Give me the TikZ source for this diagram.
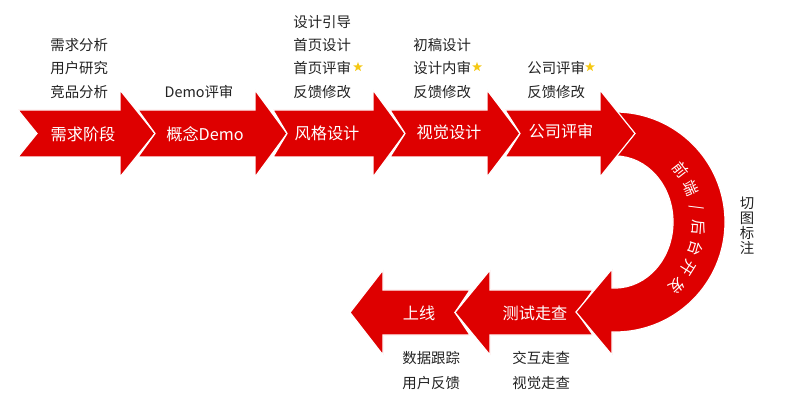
\documentclass[tikz,border=0pt]{standalone}
\usepackage{fontspec}
\setmainfont{Noto Sans CJK SC}
\usetikzlibrary{shapes.geometric}
\definecolor{arrowred}{RGB}{222,0,0}
\definecolor{labelgray}{RGB}{34,34,34}
\definecolor{staryellow}{RGB}{245,200,20}
\begin{document}
\begin{tikzpicture}[x=0.5pt,y=-0.5pt,
  flow/.style={fill=arrowred,draw=white,line width=0.6pt,line join=miter},
  intext/.style={text=white,font=\fontsize{8.1pt}{9pt}\selectfont,inner sep=0pt},
  arctext/.style={text=white,font=\fontsize{7.6pt}{8pt}\selectfont,inner sep=0pt},
  lbl/.style={text=labelgray,font=\fontsize{7.2pt}{8pt}\selectfont,inner sep=0pt,anchor=west},
  ministar/.style={star,star points=5,star point ratio=2.4,fill=staryellow,draw=none,inner sep=0pt,minimum size=5pt}]
\useasboundingbox (0,0) rectangle (791,400);

% bottom arrows (pointing left)
\path[flow] (470,290) -- (383,290) -- (383,270) -- (350,312.5) -- (383,355) -- (383,335) -- (470,335) -- (455,312.5) -- cycle;
\path[flow] (593,290) -- (490,290) -- (490,270) -- (455,312.5) -- (490,355) -- (490,335) -- (593,335) -- (577,312.5) -- cycle;

% U-turn arc
\path[flow] (612,112) -- (615,112) arc[start angle=-90,end angle=90,radius=110]
  -- (612,332) -- (612,355) -- (576,312) -- (612,269) -- (612,288) -- (615,288)
  arc[start angle=90,end angle=-90,x radius=58,y radius=66] -- (612,156) -- cycle;

% top arrows (pointing right)
\path[flow] (18,110) -- (120,110) -- (120,90) -- (155,133.5) -- (120,177) -- (120,157) -- (18,157) -- (37,133.5) -- cycle;
\path[flow] (138,110) -- (255,110) -- (255,90) -- (287,133.5) -- (255,177) -- (255,157) -- (138,157) -- (155,133.5) -- cycle;
\path[flow] (273,110) -- (373,110) -- (373,90) -- (405,133.5) -- (373,177) -- (373,157) -- (273,157) -- (287,133.5) -- cycle;
\path[flow] (390,110) -- (487,110) -- (487,90) -- (520,133.5) -- (487,177) -- (487,157) -- (390,157) -- (405,133.5) -- cycle;
\path[flow] (505,110) -- (600,110) -- (600,90) -- (635,133.5) -- (600,177) -- (600,157) -- (505,157) -- (520,133.5) -- cycle;

% texts inside arrows
\node[intext] (t1) at (83,134) {需求阶段};
\node[intext] (t2) at (205,134) {概念Demo};
\node[intext] (t3) at (327,133) {风格设计};
\node[intext] (t4) at (449,132) {视觉设计};
\node[intext] (t5) at (561,131) {公司评审};
\node[intext] (t6) at (419,313) {上线};
\node[intext] (t7) at (535,313) {测试走查};

% text along the arc
\begin{scope}[shift={(615,222)}]
\node[arctext,rotate=-52] (a1) at (-38:84) {前};
\node[arctext,rotate=-66] (a2) at (-24:83) {端};
\node[arctext,rotate=-80] (a3) at (-10:83) {/};
\node[arctext,rotate=-94] (a4) at (4:84) {后};
\node[arctext,rotate=-108] (a5) at (18:85) {台};
\node[arctext,rotate=-122] (a6) at (32:86.5) {开};
\node[arctext,rotate=-136] (a7) at (46:89) {发};
\end{scope}

% labels above
\node[lbl] (l11) at (50,45) {需求分析};
\node[lbl] (l12) at (50,68) {用户研究};
\node[lbl] (l13) at (50,92) {竞品分析};
\node[lbl,anchor=center] (l21) at (199,92) {Demo评审};
\node[lbl] (l31) at (293,22) {设计引导};
\node[lbl] (l32) at (293,45) {首页设计};
\node[lbl] (l33) at (293,68) {首页评审};
\node[lbl] (l34) at (293,92) {反馈修改};
\node[ministar] (s3) at (358,67) {};
\node[lbl] (l41) at (413,45) {初稿设计};
\node[lbl] (l42) at (413,68) {设计内审};
\node[lbl] (l43) at (413,92) {反馈修改};
\node[ministar] (s4) at (477,67) {};
\node[lbl] (l51) at (527,68) {公司评审};
\node[lbl] (l52) at (527,92) {反馈修改};
\node[ministar] (s5) at (590,67) {};

% vertical label
\node[lbl,anchor=center] (v1) at (747,203) {切};
\node[lbl,anchor=center] (v2) at (747,218) {图};
\node[lbl,anchor=center] (v3) at (747,233) {标};
\node[lbl,anchor=center] (v4) at (747,248) {注};

% labels below
\node[lbl] (b61) at (402,358) {数据跟踪};
\node[lbl] (b62) at (402,383) {用户反馈};
\node[lbl] (b71) at (512,358) {交互走查};
\node[lbl] (b72) at (512,383) {视觉走查};
\end{tikzpicture}
\end{document}
